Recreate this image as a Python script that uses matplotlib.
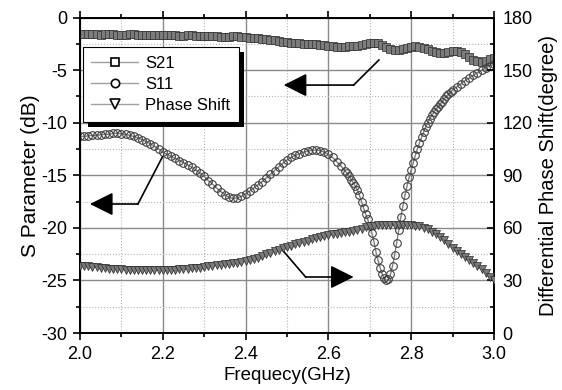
import numpy as np
import matplotlib
matplotlib.use("Agg")
import matplotlib.pyplot as plt
from matplotlib.lines import Line2D
from matplotlib.patches import Rectangle

plt.rcParams['font.family'] = ['Liberation Sans', 'DejaVu Sans']
plt.rcParams['axes.unicode_minus'] = False

# frequency grid (GHz), 0.01 step
freq = np.round(np.linspace(2.0, 3.0, 101), 3)

# S21 (dB)
s21 = [-1.55, -1.55, -1.6, -1.6, -1.6, -1.65, -1.6, -1.6, -1.6, -1.65, -1.65,
       -1.65, -1.6, -1.6, -1.65, -1.7, -1.7, -1.65, -1.65, -1.7, -1.7,
       -1.7, -1.7, -1.7, -1.75, -1.75, -1.7, -1.7, -1.75, -1.75, -1.8,
       -1.8, -1.8, -1.8, -1.85, -1.85, -1.85, -1.8, -1.8, -1.85, -1.85,
       -1.9, -1.9, -1.95, -2.0, -2.05, -2.1, -2.15, -2.2, -2.3, -2.35,
       -2.4, -2.45, -2.45, -2.5, -2.5, -2.5, -2.55, -2.6, -2.65, -2.7,
       -2.75, -2.8, -2.8, -2.8, -2.75, -2.75, -2.7, -2.6, -2.5, -2.45,
       -2.4, -2.45, -2.6, -2.8, -2.95, -3.05, -3.05, -2.95, -2.85, -2.8,
       -2.75, -2.8, -2.9, -3.0, -3.15, -3.3, -3.4, -3.35, -3.25, -3.2,
       -3.2, -3.3, -3.5, -3.75, -4.0, -4.15, -4.2, -4.1, -3.95, -3.85]

# S11 (dB), finer sampling around the resonance dip
s11_freq = np.round(np.concatenate([np.linspace(2.0, 2.64, 65),
                                    np.linspace(2.645, 2.90, 52),
                                    np.linspace(2.91, 3.0, 10)]), 4)
s11 = [-11.3, -11.3, -11.25, -11.2, -11.2, -11.15, -11.1, -11.1, -11.0, -11.0, -11.05,
       -11.1, -11.2, -11.3, -11.45, -11.6, -11.8, -12.0, -12.25, -12.5, -12.8,
       -13.0, -13.2, -13.4, -13.6, -13.8, -14.0, -14.25, -14.5, -14.8, -15.1,
       -15.5, -15.85, -16.2, -16.55, -16.85, -17.1, -17.2, -17.15, -17.0, -16.75,
       -16.5, -16.2, -15.9, -15.6, -15.25, -14.9, -14.55, -14.2, -13.85, -13.55,
       -13.3, -13.1, -12.95, -12.8, -12.7, -12.62, -12.6, -12.65, -12.8, -13.0,
       -13.3, -13.7, -14.1, -14.6,
       -14.8, -15.1, -15.4, -15.7, -16.05, -16.4,
       -16.9, -17.5, -18.1, -18.7, -19.2, -19.8,
       -20.5, -21.3, -22.3, -23.1, -23.8, -24.4,
       -24.8, -25.0, -24.9, -24.4, -23.6, -22.6,
       -21.4, -20.2, -19.0, -17.9, -16.9, -16.0,
       -15.2, -14.5, -13.8, -13.1, -12.5, -11.9,
       -11.4, -10.9, -10.4, -10.0, -9.6, -9.3,
       -9.0, -8.7, -8.5, -8.2, -8.0, -7.7,
       -7.5, -7.3, -7.1, -6.9,
       -6.6, -6.3, -6.0, -5.75, -5.5, -5.25, -5.0, -4.8, -4.6, -4.45]

# differential phase shift (degree)
phase = [38.5, 38.3, 38.0, 37.8, 37.5, 37.3, 37.0, 36.8, 36.6, 36.5, 36.3,
         36.2, 36.1, 36.0, 36.0, 35.9, 35.9, 35.9, 35.9, 35.9, 35.9,
         36.0, 36.1, 36.2, 36.4, 36.6, 36.8, 37.0, 37.2, 37.4, 37.7,
         38.0, 38.3, 38.6, 38.9, 39.2, 39.5, 39.9, 40.2, 40.6, 41.0,
         41.6, 42.3, 43.1, 44.0, 45.0, 45.9, 46.7, 47.5, 48.3, 49.0,
         49.8, 50.6, 51.3, 52.0, 52.7, 53.4, 54.0, 54.7, 55.3, 55.9,
         56.3, 56.7, 57.1, 57.5, 57.8, 58.3, 58.9, 59.6, 60.3, 61.0,
         61.3, 61.5, 61.6, 61.7, 61.8, 61.8, 61.8, 61.8, 61.7, 61.6,
         61.3, 60.9, 60.2, 59.2, 57.8, 56.4, 55.0, 53.3, 51.0, 48.4,
         46.7, 45.0, 43.3, 41.6, 40.0, 38.2, 36.3, 34.3, 32.2, 30.0]

# arrows: (start on curve, corner, tip) in (GHz, dB)
arrows = [((2.722, -4.04), (2.661, -6.42), (2.492, -6.42)),
          ((2.199, -13.26), (2.140, -17.73), (2.024, -17.73)),
          ((2.489, -22.1), (2.545, -24.67), (2.661, -24.67))]

fig = plt.figure(figsize=(5.62, 3.90), dpi=100)
ax = fig.add_axes([0.1423, 0.146, 0.7367, 0.809])
ax2 = ax.twinx()

line_c = '#808080'
ax.plot(freq, s21, color=line_c, lw=1, marker='s', ms=5.5, mfc='#7c7c7c',
        mec='#2e2e2e', mew=0.5, zorder=3)
ax.plot(s11_freq, s11, color=line_c, lw=1, marker='o', ms=5.5, mfc='none',
        mec='#404040', mew=0.8, zorder=3)
ax2.plot(freq, phase, color=line_c, lw=1, marker='v', ms=6, mfc='#7a7a7a',
         mec='#2a2a2a', mew=0.5, zorder=3)

ax.set_xlim(2.0, 3.0)
ax.set_ylim(-30, 0)
ax2.set_ylim(0, 180)
ax.set_xticks(np.arange(2.0, 3.01, 0.2))
ax.set_xticks(np.arange(2.1, 3.0, 0.2), minor=True)
ax.set_yticks(np.arange(-30, 1, 5))
ax.set_yticks(np.arange(-27.5, 0, 5), minor=True)
ax2.set_yticks(np.arange(0, 181, 30))
ax2.set_yticks(np.arange(15, 180, 30), minor=True)
ax.set_xticklabels(['%.1f' % v for v in np.arange(2.0, 3.01, 0.2)])

ax.set_axisbelow(True)
ax.grid(True, which='major', color='#8a8a8a', lw=1.0)
ax.grid(True, which='minor', color='#b5b5b5', lw=0.8, ls=':')

ax.tick_params(axis='both', which='both', labelsize=13, width=1.2, color='black')
ax.tick_params(axis='both', which='major', length=5, direction='out', pad=4)
ax.tick_params(axis='both', which='minor', length=3, direction='out')
ax.tick_params(axis='x', which='both', top=True, labeltop=False)
ax2.tick_params(axis='y', which='major', length=5, direction='in', width=1.2, labelsize=13, pad=6)
ax2.tick_params(axis='y', which='minor', length=3, direction='in', width=1.2)
for a in (ax, ax2):
    for sp in a.spines.values():
        sp.set_linewidth(1.3)

ax.set_xlabel('Frequecy(GHz)', fontsize=13.5, labelpad=3)
ax.set_ylabel('S Parameter (dB)', fontsize=15, labelpad=1)
ax2.set_ylabel('Differential Phase Shift(degree)', fontsize=14.5, labelpad=5)

for start, corner, tip in arrows:
    ax.plot([start[0], corner[0]], [start[1], corner[1]], color='black', lw=1.2, zorder=5)
    ax.annotate('', xy=tip, xytext=corner,
                arrowprops=dict(arrowstyle='-|>,head_length=1.0,head_width=0.5',
                                mutation_scale=14.4, color='black', lw=1.2,
                                shrinkA=0, shrinkB=0), zorder=5)

handles = [Line2D([], [], color='#a0a0a0', lw=1, marker='s', ms=5.5, mfc='white', mec='black', mew=1.2),
           Line2D([], [], color='#a0a0a0', lw=1, marker='o', ms=6, mfc='white', mec='black', mew=1.2),
           Line2D([], [], color='#a0a0a0', lw=1, marker='v', ms=7, mfc='white', mec='black', mew=1.2)]
leg = ax2.legend(handles, ['S21', 'S11', 'Phase Shift'], loc='upper left',
                 bbox_to_anchor=(0.007, 0.906), borderaxespad=0, fontsize=12,
                 handlelength=2.8, handletextpad=0.45, labelspacing=0.38,
                 borderpad=0.5, frameon=True, fancybox=False,
                 edgecolor='black', framealpha=1)
leg.get_frame().set_linewidth(0.8)
leg.set_zorder(10)

fig.canvas.draw()
bb = leg.get_window_extent().transformed(fig.transFigure.inverted())
dx, dy = 5 / 562, 5 / 390
shadow = Rectangle((bb.x0 + dx, bb.y0 - dy), bb.width, bb.height,
                   transform=fig.transFigure, facecolor='black',
                   edgecolor='none', zorder=9, clip_on=False)
ax2.add_patch(shadow)

fig.savefig('out.png', dpi=100)
